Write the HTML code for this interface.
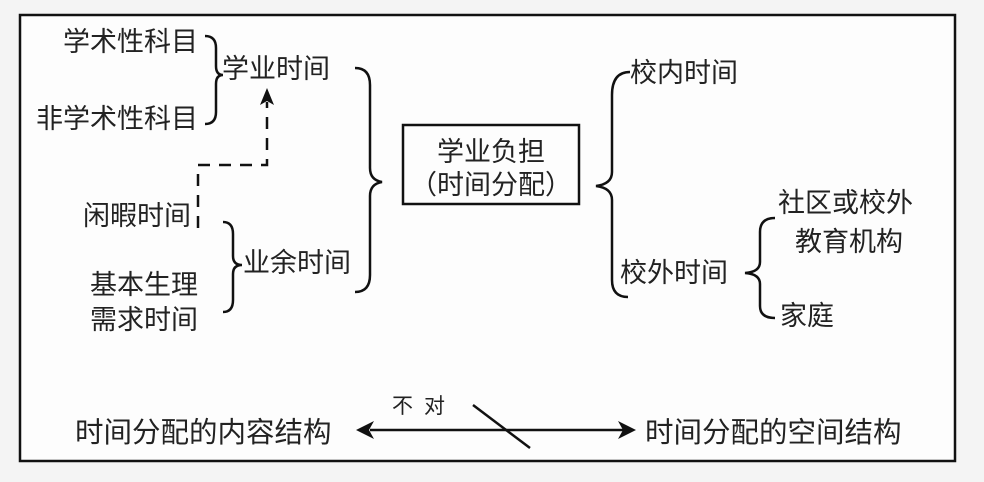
<!DOCTYPE html>
<html><head><meta charset="utf-8"><style>
body{margin:0;background:#f4f4f4;}
.t{position:absolute;font-family:"Liberation Sans","Noto Sans CJK SC",sans-serif;font-size:27px;color:#222;white-space:nowrap;line-height:1;}
</style></head><body>
<div style="position:relative;width:984px;height:482px;overflow:hidden;">
<svg width="984" height="482" style="position:absolute;left:0;top:0">
<rect x="20" y="15" width="935" height="446" fill="#fdfdfd" stroke="#111" stroke-width="2.5"/>
<rect x="403" y="125" width="176" height="79" fill="none" stroke="#111" stroke-width="2.5"/>
<g fill="none" stroke="#111" stroke-width="2.5">
<path d="M205,36 Q216,36 216,48 L216,66 Q216,75 223,75 Q216,75 216,84 L216,112 Q216,124 205,124"/>
<path d="M355,68 Q370,68 370,85 L370,168 Q370,180 382,182 Q370,184 370,196 L370,275 Q370,292 355,292"/>
<path d="M223,222 Q233,222 233,234 L233,256 Q233,265 242,265 Q233,265 233,274 L233,300 Q233,312 223,312"/>
<path d="M630,72 Q612,72 612,95 L612,172 Q612,184 596,186 Q612,188 612,200 L612,280 Q612,297 628,297"/>
<path d="M775,218 Q760,218 760,232 L760,262 Q760,272 745,273 Q760,274 760,284 L760,306 Q760,318 775,318"/>
<path d="M198,228 L198,165 L267,165 L267,102" stroke-dasharray="12,9"/>
<line x1="370" y1="430" x2="628" y2="430"/>
<line x1="473" y1="405" x2="530" y2="448"/>
</g>
<polygon points="267,88 260,105 267,101 274,105" fill="#111"/>
<polygon points="356,430 374,421 369,430 374,439" fill="#111"/>
<polygon points="636,430 618,421 623,430 618,439" fill="#111"/>
</svg>
<div class="t" style="left:63px;top:29px">学术性科目</div>
<div class="t" style="left:222px;top:56px">学业时间</div>
<div class="t" style="left:36px;top:106px">非学术性科目</div>
<div class="t" style="left:83px;top:203px">闲暇时间</div>
<div class="t" style="left:90px;top:272px">基本生理</div>
<div class="t" style="left:90px;top:307px">需求时间</div>
<div class="t" style="left:243px;top:250px">业余时间</div>
<div class="t" style="left:437px;top:139px">学业负担</div>
<div class="t" style="left:410px;top:172px">（时间分配）</div>
<div class="t" style="left:630px;top:60px">校内时间</div>
<div class="t" style="left:620px;top:260px">校外时间</div>
<div class="t" style="left:778px;top:190px">社区或校外</div>
<div class="t" style="left:795px;top:229px">教育机构</div>
<div class="t" style="left:780px;top:303px">家庭</div>
<div class="t" style="left:75px;top:419px;font-size:28.5px">时间分配的内容结构</div>
<div class="t" style="left:645px;top:419px;font-size:28.5px">时间分配的空间结构</div>
<div class="t" style="left:392px;top:396px;font-size:21px;letter-spacing:11px">不对</div>
</div>
</body></html>
